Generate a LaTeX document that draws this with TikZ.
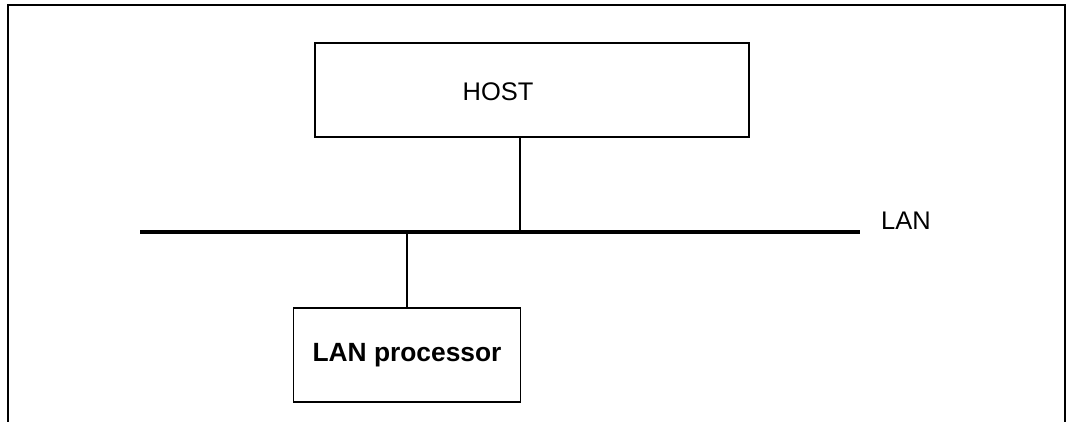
\documentclass[tikz,border=0pt]{standalone}
\usepackage{fontspec}
\setmainfont{Liberation Sans}
\usetikzlibrary{positioning}

\begin{document}
\begin{tikzpicture}[
  x=0.02cm, y=-0.02cm,
  box/.style={rectangle, draw=black, line width=1.1pt, inner sep=0pt},
  link/.style={line width=1.1pt},
  bus/.style={line width=2pt},
  label/.style={font=\fontsize{14.5}{17}\selectfont}
]
\useasboundingbox (0,0) rectangle (1069,422);

% ---- open frame ----
\draw[link] (8,422) -- (8,5) -- (1065,5) -- (1065,422);

% ---- host ----
\node[box, minimum width=434*0.02cm, minimum height=94*0.02cm] (host) at (532,90) {};
\node[label] (host_txt) at (498,92) {HOST};

% ---- LAN bus ----
\coordinate (bus_l) at (140,232);
\coordinate (bus_r) at (860,232);
\draw[bus] (bus_l) -- (bus_r);
\node[label, anchor=west] (lan_txt) at (875,221) {LAN};

\coordinate (host_tap) at (520,232);
\draw[link] (host_tap |- host.south) -- (host_tap);

% ---- LAN processor ----
\node[box, minimum width=227*0.02cm, minimum height=94*0.02cm,
      font=\fontsize{15}{18}\selectfont\bfseries] (proc) at (407,355) {LAN processor};
\draw[link] (proc.north |- bus_l) -- (proc.north);

\end{tikzpicture}
\end{document}
